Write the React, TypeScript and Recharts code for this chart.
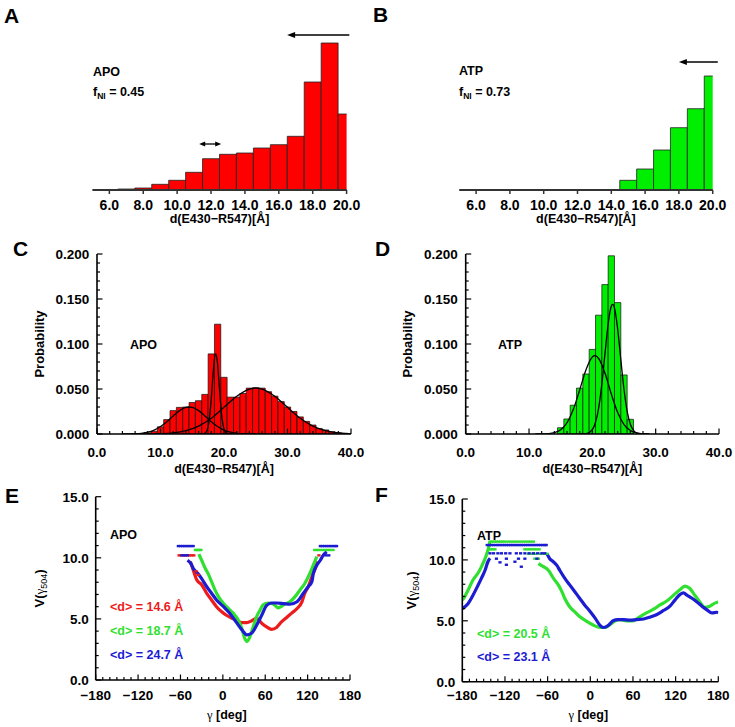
import React from 'react';
import { ComposedChart, Bar, Line, Scatter, XAxis, YAxis, ReferenceLine, ReferenceDot } from 'recharts';

const SANS = '"Liberation Sans", Arial, Helvetica, sans-serif';
const SERIF = '"Liberation Serif", "DejaVu Serif", serif';

// ================= DATA =================
// A / B : histograms of d(E430-R547) below 20 A (arbitrary counts)
const histBins = [6, 7, 8, 9, 10, 11, 12, 13, 14, 15, 16, 17, 18, 19, 20];
const histApo = [0, 1, 2, 5.7, 9.7, 17.7, 31.3, 35.7, 37, 42, 45.3, 53.7, 108, 147, 76];
const histAtp = [0, 0, 0, 0, 0, 0, 0, 0, 0, 9.7, 21, 40, 62.3, 81.3, 114];
const histTicks = [6, 8, 10, 12, 14, 16, 18, 20];
const fniApo = '0.45';
const fniAtp = '0.73';
// arrows: [from x, to x, level]
const arrowApoLong = [20.16, 16.49, 155];
const arrowApoShort = [11.3, 12.6, 46];
const arrowAtpLong = [20.3, 18.0, 128];

// C / D : probability distributions
const probBinsApo = [7, 8, 9, 10, 11, 12, 13, 14, 15, 16, 17, 18, 19, 20, 21, 22, 23, 24, 25, 26, 27, 28, 29, 30, 31, 32, 33, 34, 35, 36, 37, 38, 39];
const probApo = [0.0004, 0.0012, 0.003, 0.008, 0.016, 0.026, 0.0296, 0.030, 0.035, 0.037, 0.044, 0.089, 0.122, 0.063, 0.041, 0.041, 0.045, 0.051, 0.0515, 0.051, 0.047, 0.042, 0.036, 0.030, 0.025, 0.019, 0.014, 0.010, 0.006, 0.0045, 0.0026, 0.0015, 0.0008];
const probBinsAtp = [15, 16, 17, 18, 19, 20, 21, 22, 23, 24, 25, 26];
const probAtp = [0.007, 0.0167, 0.032, 0.051, 0.0667, 0.094, 0.132, 0.166, 0.198, 0.146, 0.0656, 0.0163];

const fitApo1 = [[4, 0], [6, 0.0003], [7, 0.0008], [8, 0.002], [9, 0.0044], [10, 0.0083], [11, 0.0137], [12, 0.0201], [13, 0.026], [14, 0.0295], [14.5, 0.030], [15, 0.0295], [16, 0.026], [17, 0.0201], [18, 0.0137], [19, 0.0083], [20, 0.0044], [21, 0.002], [22, 0.0008], [23, 0.0003], [25, 0]];
const fitApo2 = [[16.2, 0], [16.7, 0.0001], [16.95, 0.0006], [17.2, 0.0022], [17.45, 0.0067], [17.7, 0.017], [17.95, 0.0351], [18.2, 0.0589], [18.45, 0.0803], [18.7, 0.089], [18.95, 0.0803], [19.2, 0.0589], [19.45, 0.0351], [19.7, 0.017], [19.95, 0.0067], [20.2, 0.0022], [20.45, 0.0006], [20.7, 0.0001], [21.2, 0]];
const fitApo3 = [[8, 0.0001], [10, 0.0004], [12, 0.0013], [14, 0.0037], [16, 0.0088], [18, 0.0176], [20, 0.0296], [22, 0.0419], [24, 0.0499], [25, 0.051], [26, 0.0499], [28, 0.0419], [30, 0.0296], [32, 0.0176], [34, 0.0088], [36, 0.0037], [38, 0.0013], [40, 0.0004]];
const fitAtp1 = [[11, 0], [12, 0.0001], [13, 0.0004], [14, 0.0014], [15, 0.0047], [16, 0.0125], [17, 0.0274], [18, 0.0489], [19, 0.0715], [20, 0.0856], [20.4, 0.087], [21, 0.0839], [22, 0.0674], [23, 0.0443], [24, 0.0238], [25, 0.0105], [26, 0.0038], [27, 0.0011], [28, 0.0003], [29, 0]];
const fitAtp2 = [[18, 0], [19, 0.0004], [20, 0.0049], [20.5, 0.013], [21, 0.0291], [21.5, 0.0555], [22, 0.0896], [22.5, 0.1225], [23, 0.1421], [23.2, 0.144], [23.5, 0.1398], [24, 0.1166], [24.5, 0.0824], [25, 0.0494], [25.5, 0.0251], [26, 0.0108], [26.5, 0.004], [27, 0.0012], [28, 0.0001], [29, 0]];

const probXTicks = [0, 2, 4, 6, 8, 10, 12, 14, 16, 18, 20, 22, 24, 26, 28, 30, 32, 34, 36, 38, 40];
const probXMajor = [0, 10, 20, 30, 40];
const probYTicks = [0, 0.01, 0.02, 0.03, 0.04, 0.05, 0.06, 0.07, 0.08, 0.09, 0.1, 0.11, 0.12, 0.13, 0.14, 0.15, 0.16, 0.17, 0.18, 0.19, 0.2];
const probYMajor = [0, 0.05, 0.1, 0.15, 0.2];

// E / F : potentials V(gamma504) vs gamma
const eRed = [[-46, 9.7], [-42, 9.0], [-37, 8.2], [-30, 7.8], [-23, 7.1], [-16, 6.55], [-9, 6.0], [-2, 5.6], [5, 5.3], [13, 5.05], [20, 4.85], [27, 4.7], [34, 4.7], [41, 4.85], [48, 5.05], [55, 4.65], [62, 4.35], [69, 4.15], [76, 4.3], [83, 4.75], [90, 5.1], [97, 5.45], [105, 5.85], [112, 6.4], [116, 7.1], [121, 7.65], [126, 8.45], [131, 9.15], [134, 9.7]];
const eRedTop = [[-62, 10.2], [-59, 10.2], [-56, 10.2], [-53, 10.2], [-50, 10.2], [-47, 10.2], [-44, 10.2], [-41, 10.2], [-38, 8.9], [-35, 8.6], [136, 10.2]];
const eGreen = [[-34, 10.3], [-30, 9.8], [-25, 9.15], [-20, 8.6], [-16, 8.05], [-11, 7.35], [-6, 6.8], [1, 6.25], [8, 5.85], [15, 5.45], [22, 4.9], [27, 4.2], [31, 3.4], [34, 3.15], [38, 3.5], [43, 4.35], [48, 5.2], [53, 5.75], [57, 6.15], [64, 6.3], [70, 6.25], [74, 6.1], [78, 5.9], [82, 6.0], [86, 6.15], [95, 6.4], [102, 6.8], [109, 7.35], [116, 7.9], [123, 8.7], [128, 9.4], [133, 10.1]];
const eGreenTop = [[-39, 10.64], [-37, 10.64], [-35, 10.64], [-33, 10.64], [-31, 10.64], [130, 10.64], [133, 10.64], [136, 10.64], [140, 10.64], [144, 10.64], [148, 10.64], [152, 10.64], [156, 10.64]];
const eBlue = [[-50, 9.8], [-45, 9.5], [-42, 9.15], [-35, 8.7], [-30, 8.3], [-23, 7.65], [-16, 7.1], [-9, 6.55], [1, 6.0], [10, 5.45], [20, 4.65], [27, 4.1], [34, 3.7], [41, 3.85], [48, 4.5], [55, 5.3], [62, 6.1], [69, 6.3], [76, 6.3], [86, 6.25], [95, 6.2], [105, 6.4], [114, 7.1], [121, 7.65], [126, 8.05], [128, 8.7], [133, 9.4], [138, 9.8], [142, 10.2], [147, 10.5]];
const eBlueTop = [[-63, 10.96], [-60, 10.96], [-57, 10.96], [-54, 10.96], [-51, 10.96], [-48, 10.96], [-45, 10.96], [-42, 10.96], [-58, 10.2], [-54, 10.2], [-50, 10.2], [138, 10.96], [141, 10.96], [144, 10.96], [147, 10.96], [150, 10.96], [153, 10.96], [156, 10.96], [159, 10.96], [161, 10.96], [146, 10.2], [150, 10.2]];

const fGreen = [[-180, 6.7], [-178, 6.85], [-172, 7.5], [-165, 8.35], [-158, 8.9], [-153, 9.45], [-148, 10.1], [-144, 10.8], [-141, 11.5]];
const fGreenDown = [[-73, 9.7], [-66, 9.45], [-59, 9.15], [-52, 8.5], [-45, 7.95], [-40, 7.4], [-36, 6.85], [-29, 6.15], [-22, 5.75], [-15, 5.35], [-5, 4.95], [4, 4.65], [14, 4.45], [21, 4.45], [28, 4.7], [35, 5.0], [42, 5.1], [51, 5.0], [60, 5.0], [70, 5.35], [79, 5.65], [89, 5.95], [98, 6.3], [107, 6.6], [117, 7.1], [126, 7.55], [133, 7.85], [140, 7.65], [147, 7.1], [154, 6.55], [161, 6.1], [168, 6.2], [175, 6.45], [180, 6.55]];
const fGreenTop = [[-141, 11.5], [-138, 11.5], [-135, 11.5], [-132, 11.5], [-129, 11.5], [-126, 11.5], [-123, 11.5], [-120, 11.5], [-116, 11.5], [-112, 11.5], [-108, 11.5], [-104, 11.5], [-100, 11.5], [-96, 11.5], [-92, 11.5], [-88, 11.5], [-84, 11.5], [-80, 11.5], [-143, 10.87], [-140, 10.87], [-137, 10.87], [-134, 10.87], [-92, 10.87], [-88, 10.87], [-84, 10.87], [-80, 10.87], [-76, 10.87], [-72, 10.87], [-87, 10.5], [-82, 10.5], [-77, 10.5], [-70, 10.5], [-65, 10.5], [-61, 10.5], [-78, 10.1], [-73, 10.1]];
const fBlue = [[-180, 6.0], [-172, 6.4], [-165, 7.1], [-158, 7.9], [-153, 8.5], [-148, 9.15], [-144, 9.85], [-141, 10.13]];
const fBlueDown = [[-61, 10.5], [-57, 10.1], [-52, 9.85], [-47, 9.55], [-43, 9.15], [-36, 8.5], [-29, 7.95], [-22, 7.4], [-15, 6.85], [-8, 6.3], [0, 5.75], [7, 5.2], [14, 4.6], [18, 4.45], [22, 4.5], [26, 4.65], [32, 5.0], [39, 5.1], [46, 5.1], [56, 5.05], [65, 5.1], [75, 5.15], [84, 5.3], [93, 5.5], [103, 5.85], [112, 6.2], [119, 6.7], [126, 7.15], [131, 7.3], [136, 7.1], [143, 6.85], [150, 6.55], [157, 6.2], [164, 5.9], [171, 5.65], [178, 5.7], [180, 5.65]];
const fBlueTop = [[-145, 11.22], [-142, 11.22], [-139, 11.22], [-136, 11.22], [-133, 11.22], [-130, 11.22], [-127, 11.22], [-124, 11.22], [-121, 11.22], [-118, 11.22], [-115, 11.22], [-112, 11.22], [-109, 11.22], [-106, 11.22], [-103, 11.22], [-100, 11.22], [-97, 11.22], [-94, 11.22], [-91, 11.22], [-88, 11.22], [-85, 11.22], [-82, 11.22], [-79, 11.22], [-76, 11.22], [-73, 11.22], [-70, 11.22], [-67, 11.22], [-64, 11.22], [-62, 11.22], [-141, 10.54], [-136, 10.54], [-130, 10.54], [-125, 10.54], [-119, 10.54], [-113, 10.54], [-104, 10.54], [-98, 10.54], [-92, 10.54], [-86, 10.54], [-80, 10.54], [-74, 10.54], [-68, 10.54], [-64, 10.54], [-132, 10.1], [-118, 10.1], [-101, 10.1], [-92, 10.1], [-75, 10.1], [-127, 9.8], [-118, 9.6], [-106, 9.85], [-97, 9.44]];

const angleTicks = [-180, -170, -160, -150, -140, -130, -120, -110, -100, -90, -80, -70, -60, -50, -40, -30, -20, -10, 0, 10, 20, 30, 40, 50, 60, 70, 80, 90, 100, 110, 120, 130, 140, 150, 160, 170, 180];
const angleMajor = [-180, -120, -60, 0, 60, 120, 180];
const vTicks = [0, 1, 2, 3, 4, 5, 6, 7, 8, 9, 10, 11, 12, 13, 14, 15];
const vMajor = [0, 5, 10, 15];

const labelsApoE = ['14.6', '18.7', '24.7'];
const labelsAtpF = ['20.5', '23.1'];

// ================= STYLE / LAYOUT =================
const RED = '#ff0000';
const GREEN = '#00ee00';
const PT_RED = '#ec1c1c';
const PT_GREEN = '#30e030';
const PT_BLUE = '#1c1cd2';

const LAY = {
  A: { left: 0, top: 0, w: 370, h: 230, m: { top: 30, right: 23.4, left: 92.4, bottom: 0 }, xH: 40, bar: 16.9 },
  B: { left: 370, top: 0, w: 365, h: 230, m: { top: 30, right: 22.3, left: 89.2, bottom: 0 }, xH: 40, bar: 16.85 },
  C: { left: 0, top: 230, w: 370, h: 250, m: { top: 24, right: 19, left: 0, bottom: 0 }, xH: 46, yW: 97 },
  D: { left: 370, top: 230, w: 365, h: 250, m: { top: 24, right: 16, left: 0, bottom: 0 }, xH: 46, yW: 95.7 },
  E: { left: 0, top: 480, w: 370, h: 247, m: { top: 16.7, right: 20, left: 0, bottom: 0 }, xH: 47, yW: 95.7 },
  F: { left: 370, top: 480, w: 365, h: 247, m: { top: 19, right: 16.7, left: 0, bottom: 0 }, xH: 45.3, yW: 92.3 },
};

const FRAME = { stroke: '#000', strokeWidth: 1.6 };

type Side = 'bottom' | 'top' | 'left' | 'right';
interface TickOpts {
  side: Side;
  majors: number[];
  fmt?: (v: number) => string;
  major: number;
  minor: number;
  gap?: number;
  fontSize?: number;
  outward?: boolean;
  color?: string;
  width?: number;
}

function makeTick(o: TickOpts) {
  return function TickMark(props: any) {
    const x = Number(props.x);
    const y = Number(props.y);
    const v = Number(props.payload?.value);
    const isMajor = o.majors.some((m) => Math.abs(m - v) < 1e-6);
    const L = isMajor ? o.major : o.minor;
    const dir = o.outward ? -1 : 1;
    let x2 = x;
    let y2 = y;
    if (o.side === 'bottom') y2 = y - dir * L;
    if (o.side === 'top') y2 = y + dir * L;
    if (o.side === 'left') x2 = x + dir * L;
    if (o.side === 'right') x2 = x - dir * L;
    let label: React.ReactNode = null;
    if (isMajor && o.fmt) {
      const fs = o.fontSize ?? 13.5;
      if (o.side === 'bottom') {
        label = (
          <text x={x} y={y + (o.gap ?? 20)} textAnchor="middle" fontFamily={SANS} fontWeight="bold" fontSize={fs} fill="#000">
            {o.fmt(v)}
          </text>
        );
      } else if (o.side === 'left') {
        label = (
          <text x={x - (o.gap ?? 8)} y={y + fs * 0.36} textAnchor="end" fontFamily={SANS} fontWeight="bold" fontSize={fs} fill="#000">
            {o.fmt(v)}
          </text>
        );
      }
    }
    return (
      <g>
        {L > 0 ? <line x1={x} y1={y} x2={x2} y2={y2} stroke={o.color ?? '#000'} strokeWidth={o.width ?? 1.2} /> : null}
        {label}
      </g>
    );
  };
}

function xTitle(content: React.ReactNode, baseline: number, dx = 0, fs = 12.5) {
  return (p: any) => {
    const vb = p?.viewBox ?? {};
    const cx = (vb.x ?? 0) + (vb.width ?? 0) / 2 + dx;
    const y = (vb.y ?? 0) + baseline;
    return (
      <text x={cx} y={y} textAnchor="middle" fontFamily={SANS} fontWeight="bold" fontSize={fs} fill="#000">
        {content}
      </text>
    );
  };
}

function yTitle(content: React.ReactNode, fromPlot: number, fs = 13) {
  return (p: any) => {
    const vb = p?.viewBox ?? {};
    const cx = (vb.x ?? 0) + (vb.width ?? 0) - fromPlot;
    const cy = (vb.y ?? 0) + (vb.height ?? 0) / 2;
    return (
      <text x={cx} y={cy} dy="0.36em" transform={`rotate(-90 ${cx} ${cy})`} textAnchor="middle" fontFamily={SANS} fontWeight="bold" fontSize={fs} fill="#000">
        {content}
      </text>
    );
  };
}

const fmt1 = (v: number) => v.toFixed(1);
const fmt3 = (v: number) => v.toFixed(3);
const fmtAngle = (v: number) => (v < 0 ? '\u2212' + Math.abs(v) : String(v));

const distTitle = 'd(E430\u2212R547)[\u00C5]';
const gammaTitle = (
  <>
    <tspan fontFamily={SERIF} fontWeight="normal">{'\u03B3'}</tspan>
    <tspan>{' [deg]'}</tspan>
  </>
);
const vTitle = (
  <>
    <tspan>V(</tspan>
    <tspan fontFamily={SERIF} fontWeight="normal">{'\u03B3'}</tspan>
    <tspan fontFamily={SANS} fontWeight="normal" fontSize={9} dy={3}>504</tspan>
    <tspan dy={-3}>)</tspan>
  </>
);

const headLeft = (len: number, half: number) => (p: any) => (
  <polygon points={`${p.cx},${p.cy} ${p.cx + len},${p.cy - half} ${p.cx + len},${p.cy + half}`} fill="#000" />
);
const headRight = (len: number, half: number) => (p: any) => (
  <polygon points={`${p.cx},${p.cy} ${p.cx - len},${p.cy - half} ${p.cx - len},${p.cy + half}`} fill="#000" />
);

const toXY = (arr: number[][], k: string) => arr.map(([a, b]) => ({ [k]: a, y: b }));
const ptShape = (color: string) => (p: any) => (
  <rect x={p.cx - 1.6} y={p.cy - 1.2} width={3.2} height={2.4} fill={color} />
);

// ================= PANELS =================
function HistPanel({ lay, values, color, children }: any) {
  const data = histBins.map((x, i) => ({ x, n: values[i] }));
  return (
    <div style={{ position: 'absolute', left: lay.left, top: lay.top }}>
      <ComposedChart width={lay.w} height={lay.h} data={data} margin={lay.m}>
        <XAxis
          dataKey="x"
          type="number"
          domain={[5, 20]}
          allowDataOverflow
          ticks={histTicks}
          interval={0}
          tickSize={0}
          tickMargin={0}
          height={lay.xH}
          axisLine={{ stroke: '#333', strokeWidth: 2 }}
          tickLine={false}
          tick={makeTick({ side: 'bottom', majors: histTicks, fmt: fmt1, major: 4, minor: 4, outward: true, gap: 19.5, fontSize: 14, color: '#333', width: 1.5 })}
          label={xTitle(distTitle, 33)}
        />
        <YAxis hide type="number" domain={[0, 160]} allowDataOverflow />
        <Bar dataKey="n" fill={color} stroke="#222" strokeWidth={0.8} barSize={lay.bar} isAnimationActive={false} />
        {children}
      </ComposedChart>
    </div>
  );
}

function ProbPanel({ lay, bins, probs, color, fits }: any) {
  const data = bins.map((x: number, i: number) => ({ x, p: probs[i] }));
  return (
    <div style={{ position: 'absolute', left: lay.left, top: lay.top }}>
      <ComposedChart width={lay.w} height={lay.h} data={data} margin={lay.m}>
        <XAxis xAxisId="b" dataKey="x" type="number" domain={[0, 40]} allowDataOverflow ticks={probXTicks} interval={0} tickSize={0} tickMargin={0} height={lay.xH} axisLine={FRAME} tickLine={false}
          tick={makeTick({ side: 'bottom', majors: probXMajor, fmt: fmt1, major: 5.5, minor: 3, gap: 22.5 })}
          label={xTitle(distTitle, 39)} />
        <XAxis xAxisId="t" orientation="top" dataKey="x" type="number" domain={[0, 40]} allowDataOverflow ticks={probXTicks} interval={0} tickSize={0} tickMargin={0} height={0} axisLine={FRAME} tickLine={false}
          tick={makeTick({ side: 'top', majors: probXMajor, major: 5.5, minor: 3 })} />
        <YAxis yAxisId="l" type="number" domain={[0, 0.2]} allowDataOverflow ticks={probYTicks} interval={0} tickSize={0} tickMargin={0} width={lay.yW} axisLine={FRAME} tickLine={false}
          tick={makeTick({ side: 'left', majors: probYMajor, fmt: fmt3, major: 5.5, minor: 3, gap: 7.8 })}
          label={yTitle('Probability', 58)} />
        <YAxis yAxisId="r" orientation="right" type="number" domain={[0, 0.2]} allowDataOverflow ticks={probYTicks} interval={0} tickSize={0} tickMargin={0} width={0} axisLine={FRAME} tickLine={false}
          tick={makeTick({ side: 'right', majors: probYMajor, major: 5.5, minor: 3 })} />
        <Bar xAxisId="b" yAxisId="l" dataKey="p" fill={color} stroke="#111" strokeWidth={0.7} barSize={6.3} isAnimationActive={false} />
        {fits.map((f: number[][], i: number) => (
          <Line key={i} xAxisId="t" yAxisId="l" data={f.map(([x, p]) => ({ x, p }))} dataKey="p" type="monotone" stroke="#000" strokeWidth={1.3} dot={false} activeDot={false} isAnimationActive={false} />
        ))}
      </ComposedChart>
    </div>
  );
}

function PotPanel({ lay, lines, dots, yTitleOffset, xTitleBase, xTitleDx }: any) {
  return (
    <div style={{ position: 'absolute', left: lay.left, top: lay.top }}>
      <ComposedChart width={lay.w} height={lay.h} margin={lay.m}>
        <XAxis xAxisId="b" dataKey="g" type="number" domain={[-180, 180]} allowDataOverflow ticks={angleTicks} interval={0} tickSize={0} tickMargin={0} height={lay.xH} axisLine={FRAME} tickLine={false}
          tick={makeTick({ side: 'bottom', majors: angleMajor, fmt: fmtAngle, major: 5.5, minor: 3, gap: xTitleBase - 19.5 })}
          label={xTitle(gammaTitle, xTitleBase, xTitleDx)} />
        <XAxis xAxisId="t" orientation="top" dataKey="g" type="number" domain={[-180, 180]} allowDataOverflow ticks={angleTicks} interval={0} tickSize={0} tickMargin={0} height={0} axisLine={FRAME} tickLine={false}
          tick={makeTick({ side: 'top', majors: angleMajor, major: 5.5, minor: 3 })} />
        <YAxis yAxisId="l" dataKey="y" type="number" domain={[0, 15]} allowDataOverflow ticks={vTicks} interval={0} tickSize={0} tickMargin={0} width={lay.yW} axisLine={FRAME} tickLine={false}
          tick={makeTick({ side: 'left', majors: vMajor, fmt: fmt1, major: 5.5, minor: 3, gap: 7 })}
          label={yTitle(vTitle, yTitleOffset)} />
        <YAxis yAxisId="r" orientation="right" type="number" domain={[0, 15]} allowDataOverflow ticks={vTicks} interval={0} tickSize={0} tickMargin={0} width={0} axisLine={FRAME} tickLine={false}
          tick={makeTick({ side: 'right', majors: vMajor, major: 5.5, minor: 3 })} />
        {lines.map((l: any, i: number) => (
          <Line key={'l' + i} xAxisId="b" yAxisId="l" data={toXY(l.pts, 'g')} dataKey="y" type="monotone" stroke={l.color} strokeWidth={3.2} dot={false} activeDot={false} isAnimationActive={false} />
        ))}
        {dots.map((d: any, i: number) => (
          <Scatter key={'s' + i} xAxisId="b" yAxisId="l" data={toXY(d.pts, 'g')} dataKey="y" fill={d.color} shape={ptShape(d.color)} isAnimationActive={false} />
        ))}
      </ComposedChart>
    </div>
  );
}

function Fni({ x, y, val }: { x: number; y: number; val: string }) {
  return (
    <text x={x} y={y} fontFamily={SANS} fontWeight="bold" fontSize={12.5} fill="#000">
      <tspan>f</tspan>
      <tspan fontSize={8.5} dy={3}>NI</tspan>
      <tspan dy={-3}>{' = ' + val}</tspan>
    </text>
  );
}

export default function App() {
  const ann = { fontFamily: SANS, fontWeight: 'bold' as const, fontSize: 12.5 };
  const letter = { fontFamily: SANS, fontWeight: 'bold' as const, fontSize: 21, fill: '#000' };
  return (
    <div style={{ position: 'absolute', left: 0, top: 0, width: 735, height: 727, background: '#fff' }}>
      <HistPanel lay={LAY.A} values={histApo} color={RED}>
        <ReferenceLine segment={[{ x: arrowApoLong[0], y: arrowApoLong[2] }, { x: arrowApoLong[1] + 0.3, y: arrowApoLong[2] }]} stroke="#000" strokeWidth={1.3} ifOverflow="visible" />
        <ReferenceDot x={arrowApoLong[1]} y={arrowApoLong[2]} r={3} ifOverflow="visible" shape={headLeft(8, 3)} />
        <ReferenceLine segment={[{ x: arrowApoShort[0] + 0.2, y: arrowApoShort[2] }, { x: arrowApoShort[1] - 0.2, y: arrowApoShort[2] }]} stroke="#000" strokeWidth={1.3} ifOverflow="visible" />
        <ReferenceDot x={arrowApoShort[0]} y={arrowApoShort[2]} r={3} ifOverflow="visible" shape={headLeft(6, 2.6)} />
        <ReferenceDot x={arrowApoShort[1]} y={arrowApoShort[2]} r={3} ifOverflow="visible" shape={headRight(6, 2.6)} />
      </HistPanel>
      <HistPanel lay={LAY.B} values={histAtp} color={GREEN}>
        <ReferenceLine segment={[{ x: arrowAtpLong[0], y: arrowAtpLong[2] }, { x: arrowAtpLong[1] + 0.3, y: arrowAtpLong[2] }]} stroke="#000" strokeWidth={1.3} ifOverflow="visible" />
        <ReferenceDot x={arrowAtpLong[1]} y={arrowAtpLong[2]} r={3} ifOverflow="visible" shape={headLeft(8, 3)} />
      </HistPanel>
      <ProbPanel lay={LAY.C} bins={probBinsApo} probs={probApo} color={RED} fits={[fitApo1, fitApo2, fitApo3]} />
      <ProbPanel lay={LAY.D} bins={probBinsAtp} probs={probAtp} color={GREEN} fits={[fitAtp1, fitAtp2]} />
      <PotPanel
        lay={LAY.E}
        yTitleOffset={56.2}
        xTitleBase={39}
        xTitleDx={4}
        lines={[{ pts: eRed, color: PT_RED }, { pts: eGreen, color: PT_GREEN }, { pts: eBlue, color: PT_BLUE }]}
        dots={[{ pts: eRedTop, color: PT_RED }, { pts: eGreenTop, color: PT_GREEN }, { pts: eBlueTop, color: PT_BLUE }]}
      />
      <PotPanel
        lay={LAY.F}
        yTitleOffset={51.3}
        xTitleBase={37.5}
        xTitleDx={-2}
        lines={[{ pts: fGreen, color: PT_GREEN }, { pts: fGreenDown, color: PT_GREEN }, { pts: fBlue, color: PT_BLUE }, { pts: fBlueDown, color: PT_BLUE }]}
        dots={[{ pts: fGreenTop, color: PT_GREEN }, { pts: fBlueTop, color: PT_BLUE }]}
      />
      <svg width={735} height={727} style={{ position: 'absolute', left: 0, top: 0, pointerEvents: 'none' }}>
        <text x={4} y={23} {...letter}>A</text>
        <text x={373} y={22} {...letter}>B</text>
        <text x={13} y={256} {...letter}>C</text>
        <text x={375} y={256} {...letter}>D</text>
        <text x={5} y={503} {...letter}>E</text>
        <text x={375} y={502} {...letter}>F</text>

        <text x={93} y={76} {...ann} fill="#000">APO</text>
        <Fni x={93} y={96} val={fniApo} />
        <text x={459} y={75} {...ann} fill="#000">ATP</text>
        <Fni x={459} y={96} val={fniAtp} />

        <text x={130} y={348.5} {...ann} fill="#000">APO</text>
        <text x={498} y={348.5} {...ann} fill="#000">ATP</text>

        <text x={110} y={538.5} {...ann} fill="#000">APO</text>
        <text x={110} y={610.7} {...ann} fill={PT_RED}>{'<d> = ' + labelsApoE[0] + ' \u00C5'}</text>
        <text x={110} y={635} {...ann} fill={PT_GREEN}>{'<d> = ' + labelsApoE[1] + ' \u00C5'}</text>
        <text x={110} y={659.3} {...ann} fill={PT_BLUE}>{'<d> = ' + labelsApoE[2] + ' \u00C5'}</text>

        <text x={477} y={540} {...ann} fill="#000">ATP</text>
        <text x={477} y={637.7} {...ann} fill={PT_GREEN}>{'<d> = ' + labelsAtpF[0] + ' \u00C5'}</text>
        <text x={477} y={661} {...ann} fill={PT_BLUE}>{'<d> = ' + labelsAtpF[1] + ' \u00C5'}</text>
      </svg>
    </div>
  );
}
